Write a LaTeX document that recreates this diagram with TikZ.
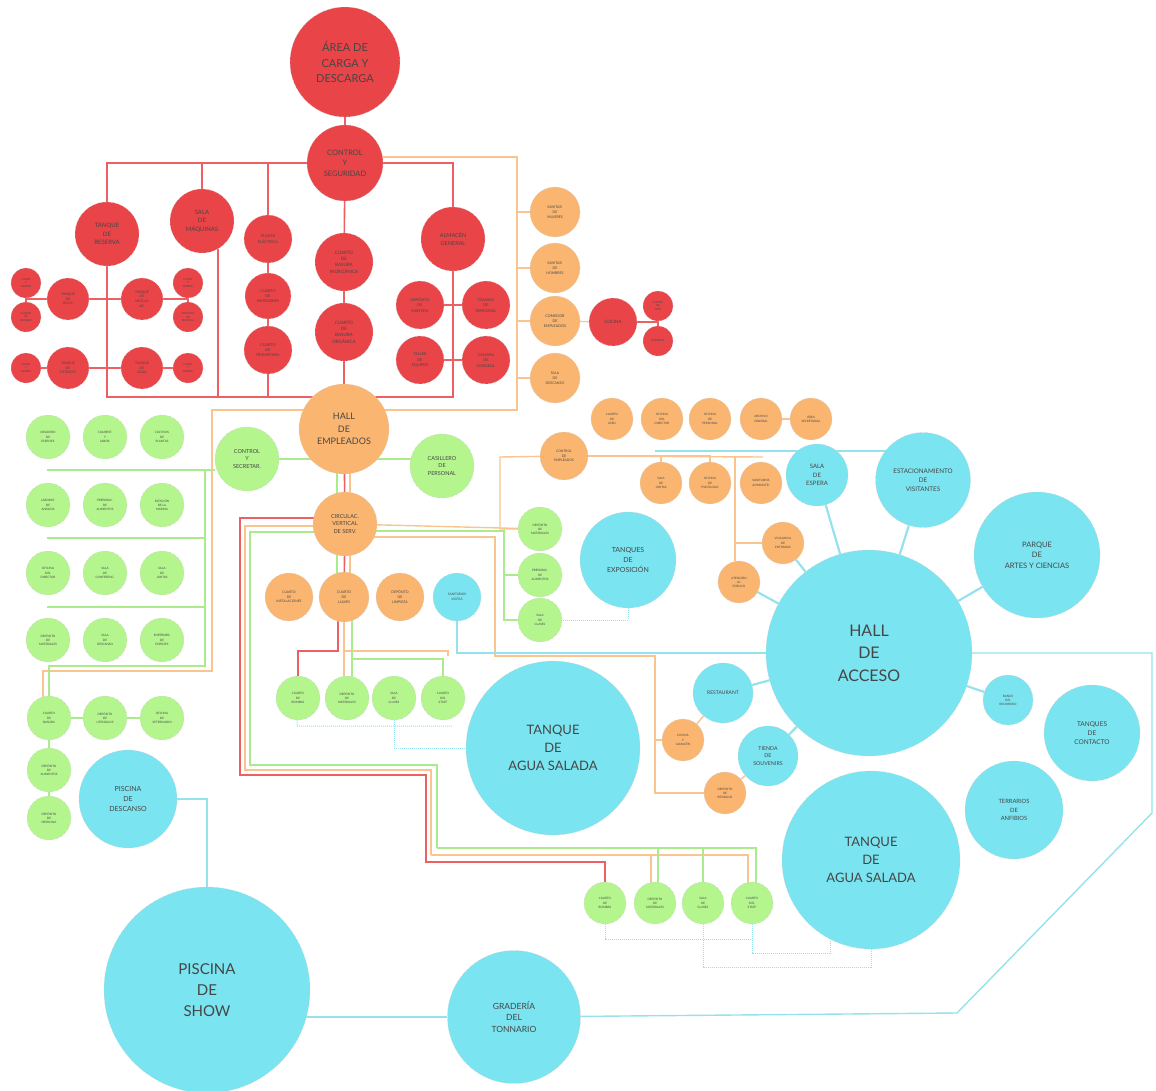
\documentclass[tikz,border=0pt]{standalone}
\usepackage{fontspec}
\setmainfont{Lato}
\usetikzlibrary{backgrounds}

\definecolor{rojo}{RGB}{233,68,72}
\definecolor{naranja}{RGB}{250,182,112}
\definecolor{verde}{RGB}{180,245,142}
\definecolor{celeste}{RGB}{122,228,240}
\definecolor{tinta}{RGB}{70,70,70}
\definecolor{rojoL}{RGB}{236,96,100}
\definecolor{naranjaL}{RGB}{250,196,142}
\definecolor{verdeL}{RGB}{170,236,140}
\definecolor{celesteL}{RGB}{150,226,236}

\newcommand\tam[1]{\fontsize{#1}{\fpeval{1.4*#1}}\selectfont}

\tikzset{every picture/.style={line width=0.75pt},
  burbuja/.style={circle, inner sep=0pt, align=center, text=tinta, draw=black!18, densely dashed, line width=0.3pt},
  bRoja/.style={burbuja, fill=rojo},
  bNaranja/.style={burbuja, fill=naranja},
  bVerde/.style={burbuja, fill=verde},
  bCeleste/.style={burbuja, fill=celeste},
  fs/.style={font=\tam{#1}},
  lRoja/.style={draw=rojoL, line width=1.6pt},
  lNaranja/.style={draw=naranjaL, line width=1.4pt},
  lVerde/.style={draw=verdeL, line width=1.2pt},
  lCeleste/.style={draw=celesteL, line width=1.4pt},
  lCorta/.style={draw=celesteL, line width=2.2pt},
  lPunteo/.style={draw=celesteL, densely dotted, line width=1pt}}

\begin{document}
\begin{tikzpicture}[x=1pt,y=1pt,yscale=-1]
\useasboundingbox (0,0) rectangle (1156,1091);

%Coordinates
\coordinate (rB) at (107,397);
\coordinate (o1) at (517,157);
\coordinate (o2) at (517,410);
\coordinate (o3) at (212,410);
\coordinate (o4) at (212,671);
\coordinate (g1) at (47,470);
\coordinate (g2) at (205,470);
\coordinate (g3) at (205,666);
\coordinate (g4) at (47,538);
\coordinate (g5) at (205,538);
\coordinate (g6) at (47,607);
\coordinate (g7) at (205,607);
\coordinate (rc1) at (240,518);
\coordinate (rc2) at (240,775);
\coordinate (rc3) at (426,775);
\coordinate (rc4) at (426,862);
\coordinate (oc1) at (245,526);
\coordinate (oc2) at (245,770);
\coordinate (oc3) at (431,770);
\coordinate (oc4) at (431,855);
\coordinate (gc1) at (250,532);
\coordinate (gc2) at (250,765);
\coordinate (gc3) at (437,765);
\coordinate (gc4) at (437,848);
\coordinate (ru) at (298,651);
\coordinate (ou) at (448,651);
\coordinate (gu) at (443,659);
\coordinate (gv1) at (504,531);
\coordinate (ov1) at (500,457);
\coordinate (ob1) at (495,537);
\coordinate (ob2) at (495,656);
\coordinate (ob3) at (655,656);
\coordinate (oe1) at (763,457);
\coordinate (oe2) at (735,457);
\coordinate (cb1) at (655,451);
\coordinate (p2) at (1152,813);
\coordinate (p3) at (957,1013);
\coordinate (d1) at (297,726);
\coordinate (d2) at (452,726);
\coordinate (d3) at (605,939);
\coordinate (d4) at (752,939);
\coordinate (sd1) at (871,967);
\coordinate (sd2) at (830,953);

%Shape: Circle -- zona de servicio (rojo)
\node[bRoja, minimum size=110, fs=11] (carga) at (345,62) {ÁREA DE\\CARGA Y\\DESCARGA};
\node[bRoja, minimum size=76, fs=7.5] (control) at (345,163) {CONTROL\\Y\\SEGURIDAD};
\node[bRoja, minimum size=64, fs=6] (reserva) at (107,234) {TANQUE\\DE\\RESERVA};
\node[bRoja, minimum size=64, fs=6] (maquinas) at (202,221) {SALA\\DE\\MÁQUINAS};
\node[bRoja, minimum size=48, fs=3.8] (planta) at (268,239) {PLANTA\\ELÉCTRICA};
\node[bRoja, minimum size=46, fs=3.8] (medidor) at (268,296) {CUARTO\\DE\\MEDIDORES};
\node[bRoja, minimum size=48, fs=3.8] (transf) at (268,350) {CUARTO\\DE\\TRANSFORM.};
\node[bRoja, minimum size=58, fs=4.5] (inorg) at (344,262) {CUARTO\\DE\\BASURA\\INORGÁNICA};
\node[bRoja, minimum size=58, fs=4.5] (organica) at (344,332) {CUARTO\\DE\\BASURA\\ORGÁNICA};
\node[bRoja, minimum size=64, fs=5.5] (almacen) at (453,239) {ALMACÉN\\GENERAL};
\node[bRoja, minimum size=48, fs=3.8] (manten) at (420,305) {DEPÓSITO\\DE\\MANTEN.};
\node[bRoja, minimum size=48, fs=3.8] (refrig) at (486,305) {CÁMARA\\DE\\REFRIGERA.};
\node[bRoja, minimum size=48, fs=3.8] (taller) at (420,360) {TALLER\\DE\\EQUIPOS};
\node[bRoja, minimum size=48, fs=3.8] (congel) at (486,360) {CÁMARA\\DE\\CONGELA.};
\node[bRoja, minimum size=30, fs=2.6] (filtroA) at (26,283) {FILTRO\\Y\\BOMBA};
\node[bRoja, minimum size=30, fs=2.6] (bombeoA) at (26,317) {CUARTO\\DE\\BOMBEO};
\node[bRoja, minimum size=42, fs=3.4] (roca) at (68,299) {TANQUE\\DE\\ROCA};
\node[bRoja, minimum size=42, fs=3.4] (mezcla) at (142,299) {TANQUE\\DE\\MEZCLA\\AG.};
\node[bRoja, minimum size=30, fs=2.6] (filtroB) at (188,283) {FILTRO\\Y\\BOMBA};
\node[bRoja, minimum size=30, fs=2.6] (materialB) at (188,317) {DEPÓSITO\\DE\\MATERIAL};
\node[bRoja, minimum size=30, fs=2.6] (filtroC) at (26,368) {FILTRO\\Y\\BOMBA};
\node[bRoja, minimum size=42, fs=3.4] (filtrado) at (68,368) {TANQUE\\DE\\FILTRADO};
\node[bRoja, minimum size=42, fs=3.4] (aguaT) at (142,368) {TANQUE\\DE\\AGUA};
\node[bRoja, minimum size=30, fs=2.6] (filtroD) at (188,368) {FILTRO\\Y\\BOMBA};
\node[bRoja, minimum size=48, fs=4.5] (cocina) at (613,322) {COCINA};
\node[bRoja, minimum size=30, fs=2.6] (frio) at (658,306) {CUARTO\\DE\\FRÍO};
\node[bRoja, minimum size=30, fs=2.6] (despensa) at (658,341) {DESPENSA};

%Shape: Circle -- empleados (naranja)
\node[bNaranja, minimum size=50, fs=3.5] (sanM) at (555,212) {SANITAR.\\DE\\MUJERES};
\node[bNaranja, minimum size=50, fs=3.5] (sanH) at (555,268) {SANITAR.\\DE\\HOMBRES};
\node[bNaranja, minimum size=50, fs=3.7] (comedor) at (555,321) {COMEDOR\\DE\\EMPLEADOS};
\node[bNaranja, minimum size=50, fs=3.5] (descE) at (555,378) {SALA\\DE\\DESCANSO};
\node[bNaranja, minimum size=90, fs=9] (hallE) at (344,429) {HALL\\DE\\EMPLEADOS};
\node[bNaranja, minimum size=64, fs=5.5] (circ) at (345,524) {CIRCULAC.\\VERTICAL\\DE SERV.};
\node[bNaranja, minimum size=48, fs=3.3] (instal) at (289,597) {CUARTO\\DE\\INSTALACIONES};
\node[bNaranja, minimum size=50, fs=3.5] (llaves) at (344,597) {CUARTO\\DE\\LLAVES};
\node[bNaranja, minimum size=48, fs=3.5] (limpieza) at (400,597) {DEPÓSITO\\DE\\LIMPIEZA};
\node[bNaranja, minimum size=42, fs=3] (aseo) at (612,419) {CUARTO\\DE\\ASEO};
\node[bNaranja, minimum size=42, fs=3] (ofDir) at (662,419) {OFICINA\\DEL\\DIRECTOR};
\node[bNaranja, minimum size=42, fs=3] (ofPers) at (710,419) {OFICINA\\DE\\PERSONAL};
\node[bNaranja, minimum size=42, fs=3] (archivo) at (761,419) {ARCHIVO\\GENERAL};
\node[bNaranja, minimum size=42, fs=3] (secret) at (811,419) {ÁREA\\SECRETARIAL};
\node[bNaranja, minimum size=48, fs=3.3] (ctrlE) at (564,456) {CONTROL\\DE\\EMPLEADOS};
\node[bNaranja, minimum size=42, fs=3] (juntas) at (661,483) {SALA\\DE\\JUNTAS};
\node[bNaranja, minimum size=42, fs=3] (psicol) at (710,483) {OFICINA\\DE\\PSICÓLOGO};
\node[bNaranja, minimum size=42, fs=3] (sanAdm) at (761,483) {SANITARIOS\\ADMINISTR.};
\node[bNaranja, minimum size=42, fs=3] (vigil) at (783,543) {VIGILANCIA\\DE\\ENTRADAS};
\node[bNaranja, minimum size=42, fs=3] (atenc) at (739,582) {ATENCIÓN\\AL\\PÚBLICO};
\node[bNaranja, minimum size=42, fs=3] (cocinaA) at (683,740) {COCINA\\Y\\ALMACÉN};
\node[bNaranja, minimum size=42, fs=3] (residuos) at (725,793) {DEPÓSITO\\DE\\RESIDUOS};

%Shape: Circle -- investigacion (verde)
\node[bVerde, minimum size=64, fs=5.5] (ctrlS) at (247,459) {CONTROL\\Y\\SECRETAR.};
\node[bVerde, minimum size=64, fs=5.5] (casill) at (442,466) {CASILLERO\\DE\\PERSONAL};
\node[bVerde, minimum size=44, fs=3] (criadero) at (48,437) {CRIADERO\\DE\\ESPECIES};
\node[bVerde, minimum size=44, fs=3] (cuarent) at (105,437) {CUARENT.\\Y\\LABOR.};
\node[bVerde, minimum size=44, fs=3] (cultivos) at (162,437) {CULTIVOS\\DE\\PLANTAS};
\node[bVerde, minimum size=44, fs=3] (laborat) at (48,505) {LABORAT.\\DE\\ANÁLISIS};
\node[bVerde, minimum size=44, fs=3] (prepAl) at (105,505) {PREPARAC.\\DE\\ALIMENTOS};
\node[bVerde, minimum size=44, fs=3] (estacion) at (162,505) {ESTACIÓN\\DE LA\\MARINA};
\node[bVerde, minimum size=44, fs=3] (oficDir) at (48,573) {OFICINA\\DEL\\DIRECTOR};
\node[bVerde, minimum size=44, fs=3] (salaConf) at (105,573) {SALA\\DE\\CONFERENC.};
\node[bVerde, minimum size=44, fs=3] (salaJun) at (162,573) {SALA\\DE\\JUNTAS};
\node[bVerde, minimum size=44, fs=3] (depMat) at (48,640) {DEPÓSITO\\DE\\MATERIALES};
\node[bVerde, minimum size=44, fs=3] (salaDesc) at (105,640) {SALA\\DE\\DESCANSO};
\node[bVerde, minimum size=44, fs=3] (enferm) at (162,640) {ENFERMER.\\DE\\ESPECIES};
\node[bVerde, minimum size=44, fs=3] (basura) at (49,718) {CUARTO\\DE\\BASURA};
\node[bVerde, minimum size=44, fs=3] (utens) at (105,718) {DEPÓSITO\\DE\\UTENSILIOS};
\node[bVerde, minimum size=44, fs=3] (veterin) at (162,718) {OFICINA\\DE\\VETERINARIO};
\node[bVerde, minimum size=44, fs=3] (alimen) at (49,770) {DEPÓSITO\\DE\\ALIMENTOS};
\node[bVerde, minimum size=44, fs=3] (medic) at (49,818) {DEPÓSITO\\DE\\MEDICINA};
\node[bVerde, minimum size=44, fs=3] (bombasA) at (298,698) {CUARTO\\DE\\BOMBAS};
\node[bVerde, minimum size=44, fs=3] (matA) at (347,698) {DEPÓSITO\\DE\\MATERIALES};
\node[bVerde, minimum size=44, fs=3] (clasesA) at (394,698) {SALA\\DE\\CLASES};
\node[bVerde, minimum size=44, fs=3] (staffA) at (443,698) {CUARTO\\DEL\\STAFF};
\node[bVerde, minimum size=44, fs=3] (matR) at (540,529) {DEPÓSITO\\DE\\MATERIALES};
\node[bVerde, minimum size=44, fs=3] (prepR) at (540,575) {PREPARAC.\\DE\\ALIMENTOS};
\node[bVerde, minimum size=44, fs=3] (clasesR) at (540,620) {SALA\\DE\\CLASES};
\node[bVerde, minimum size=42, fs=3] (bombasB) at (605,903) {CUARTO\\DE\\BOMBAS};
\node[bVerde, minimum size=42, fs=3] (matB) at (655,903) {DEPÓSITO\\DE\\MATERIALES};
\node[bVerde, minimum size=42, fs=3] (clasesB) at (703,903) {SALA\\DE\\CLASES};
\node[bVerde, minimum size=42, fs=3] (staffB) at (752,903) {CUARTO\\DEL\\STAFF};

%Shape: Circle -- publico (celeste)
\node[bCeleste, minimum size=48, fs=3.2] (sanitV) at (457,597) {SANITARIOS\\VISITAS};
\node[bCeleste, minimum size=62, fs=6] (espera) at (817,475) {SALA\\DE\\ESPERA};
\node[bCeleste, minimum size=95, fs=6.3] (estac) at (923,480) {ESTACIONAMIENTO\\DE\\VISITANTES};
\node[bCeleste, minimum size=126, fs=7.5] (parque) at (1037,555) {PARQUE\\DE\\ARTES Y CIENCIAS};
\node[bCeleste, minimum size=206, fs=16] (acceso) at (869,653) {HALL\\DE\\ACCESO};
\node[bCeleste, minimum size=50, fs=3] (bano) at (1008,700) {BAÑOS\\DEL\\RECORRIDO};
\node[bCeleste, minimum size=96, fs=6.5] (contacto) at (1092,733) {TANQUES\\DE\\CONTACTO};
\node[bCeleste, minimum size=98, fs=5.8] (terrario) at (1014,810) {TERRARIOS\\DE\\ANFIBIOS};
\node[bCeleste, minimum size=178, fs=13] (saladaR) at (871,860) {TANQUE\\DE\\AGUA SALADA};
\node[bCeleste, minimum size=174, fs=13] (saladaL) at (553,748) {TANQUE\\DE\\AGUA SALADA};
\node[bCeleste, minimum size=96, fs=7] (expos) at (628,560) {TANQUES\\DE\\EXPOSICIÓN};
\node[bCeleste, minimum size=60, fs=5] (restau) at (723,693) {RESTAURANT};
\node[bCeleste, minimum size=60, fs=5.3] (tienda) at (768,756) {TIENDA\\DE\\SOUVENIRS};
\node[bCeleste, minimum size=98, fs=7] (descanso) at (128,799) {PISCINA\\DE\\DESCANSO};
\node[bCeleste, minimum size=206, fs=15] (show) at (207,990) {PISCINA\\DE\\SHOW};
\node[bCeleste, minimum size=133, fs=8.5] (grad) at (514,1017) {GRADERÍA\\DEL\\TONNARIO};

\begin{scope}[on background layer]
%Straight Lines -- rojo
\draw[lRoja] (carga) -- (control) -- (inorg) -- (organica) -- (hallE);
\draw[lRoja] (reserva) |- (control) -| (almacen);
\draw[lRoja] (maquinas) |- (control);
\draw[lRoja] (planta) |- (control);
\draw[lRoja] (planta) -- (medidor) -- (transf) -- (transf |- rB);
\draw[lRoja] (reserva) -- (rB) -- (rB -| almacen) -- (almacen);
\draw[lRoja] (maquinas.-60) -- (maquinas.-60 |- rB);
\draw[lRoja] (manten) -- (refrig);
\draw[lRoja] (taller) -- (congel);
\draw[lRoja] (filtroA) -- (bombeoA);
\draw[lRoja] (roca -| filtroA) -- (roca) -- (mezcla) -- (mezcla -| filtroB);
\draw[lRoja] (filtroB) -- (materialB);
\draw[lRoja] (filtroC) -- (filtrado) -- (aguaT) -- (filtroD);
\draw[lRoja] (cocina) -- (cocina -| frio);
\draw[lRoja] (frio) -- (despensa);
\draw[lRoja] (hallE) -- (circ) -- (llaves);
\draw[lRoja] (circ.center |- rc1) -- (rc1) -- (rc2) -- (rc3) -- (rc4) -| (bombasB);
\draw[lRoja] ([xshift=-6]llaves.center) |- (ru) -- (bombasA);

%Straight Lines -- naranja
\draw[lNaranja] (control.center |- o1) -- (o1) -- (o2) -- (o2 -| hallE);
\foreach \n in {sanM, sanH, comedor, descE}
  \draw[lNaranja] (\n) -- (\n -| o1);
\draw[lNaranja] (comedor) -- (cocina);
\draw[lNaranja] (hallE.center |- o3) -- (o3) -- (o4) -| ([xshift=-6]basura.center);
\draw[lNaranja] ([xshift=6]hallE.center) -- ([xshift=6]llaves.center);
\draw[lNaranja] (circ.center |- oc1) -- (oc1) -- (oc2) -- (oc3) -- (oc4);
\draw[lNaranja] ([xshift=-4]matB.center) |- (oc4);
\draw[lNaranja] ([xshift=-4]staffB.center) |- (oc4);
\draw[lNaranja] (llaves.center) -- (llaves.center |- matA.center);
\draw[lNaranja] (llaves.center |- ou) -- (ou) -- ++(0,5);
\draw[lNaranja] (circ) -- (matR);
\draw[lNaranja] (ctrlE) -- (ov1) |- (matR);
\draw[lNaranja] (circ.center |- ob1) -- (ob1) -- (ob2) -- (ob3) |- (residuos);
\draw[lNaranja] (ob3) |- (cocinaA);
\draw[lNaranja] (ctrlE) -- (oe1);
\draw[lNaranja] (juntas) |- (ctrlE);
\draw[lNaranja] (psicol) |- (ctrlE);
\draw[lNaranja] (oe2) |- (vigil);
\draw[lNaranja] (oe2) -- (oe2 |- atenc.north);
\draw[lNaranja] (archivo) -- (secret);
\draw[lNaranja] (restau) -- (cocinaA);
\draw[lNaranja] (tienda) -- (residuos);

%Straight Lines -- verde
\draw[lVerde] (ctrlS) -- (ctrlS -| casill);
\draw[lVerde] (ctrlS.west |- g1) -- (g1);
\draw[lVerde] (g2) -- (g3) -| (basura);
\draw[lVerde] (g4) -- (g5);
\draw[lVerde] (g6) -- (g7);
\draw[lVerde] (basura) -- (utens) -- (veterin);
\draw[lVerde] (basura) -- (alimen) -- (medic);
\draw[lVerde] ([xshift=-7]hallE.center) -- ([xshift=-7]llaves.center);
\draw[lVerde] (circ.center |- gc1) -- (gc1) -- (gc2) -- (gc3) -- (gc4);
\draw[lVerde] ([xshift=3]matB.center) |- (gc4);
\draw[lVerde] (clasesB.center) |- (gc4);
\draw[lVerde] ([xshift=4]staffB.center) |- (gc4);
\draw[lVerde] ([xshift=8]llaves.center) -- ([xshift=5]matA.center);
\draw[lVerde] ([xshift=5]matA.center) |- (gu) -- (staffA);
\draw[lVerde] (circ.center |- gv1) -- (gv1) |- (clasesR);
\draw[lVerde] (gv1) |- (prepR);

%Straight Lines -- celeste
\draw[lCeleste] (sanitV) |- (acceso);
\draw[lCeleste] (cb1) -- (cb1 -| estac);
\foreach \s in {espera, estac, parque, bano, restau, tienda, vigil, atenc}
  \draw[lCorta] (acceso) -- (\s);
\draw[lCeleste] (acceso) -| (p2) -- (p3) -- (grad);
\draw[lCeleste] (grad) -- (grad -| show);
\draw[lCeleste] (descanso) -| (show);
\draw[lPunteo] (expos) |- (clasesR);
\draw[lPunteo] (bombasA) -- (d1) -- (d2);
\draw[lPunteo] (clasesA) |- (saladaL);
\draw[lPunteo] (bombasB) -- (d3) -- (d4);
\draw[lPunteo] (clasesB) |- (sd1) -- (saladaR);
\draw[lPunteo] (staffB) |- (sd2) -- ++(0,-12);
\end{scope}

\end{tikzpicture}
\end{document}
